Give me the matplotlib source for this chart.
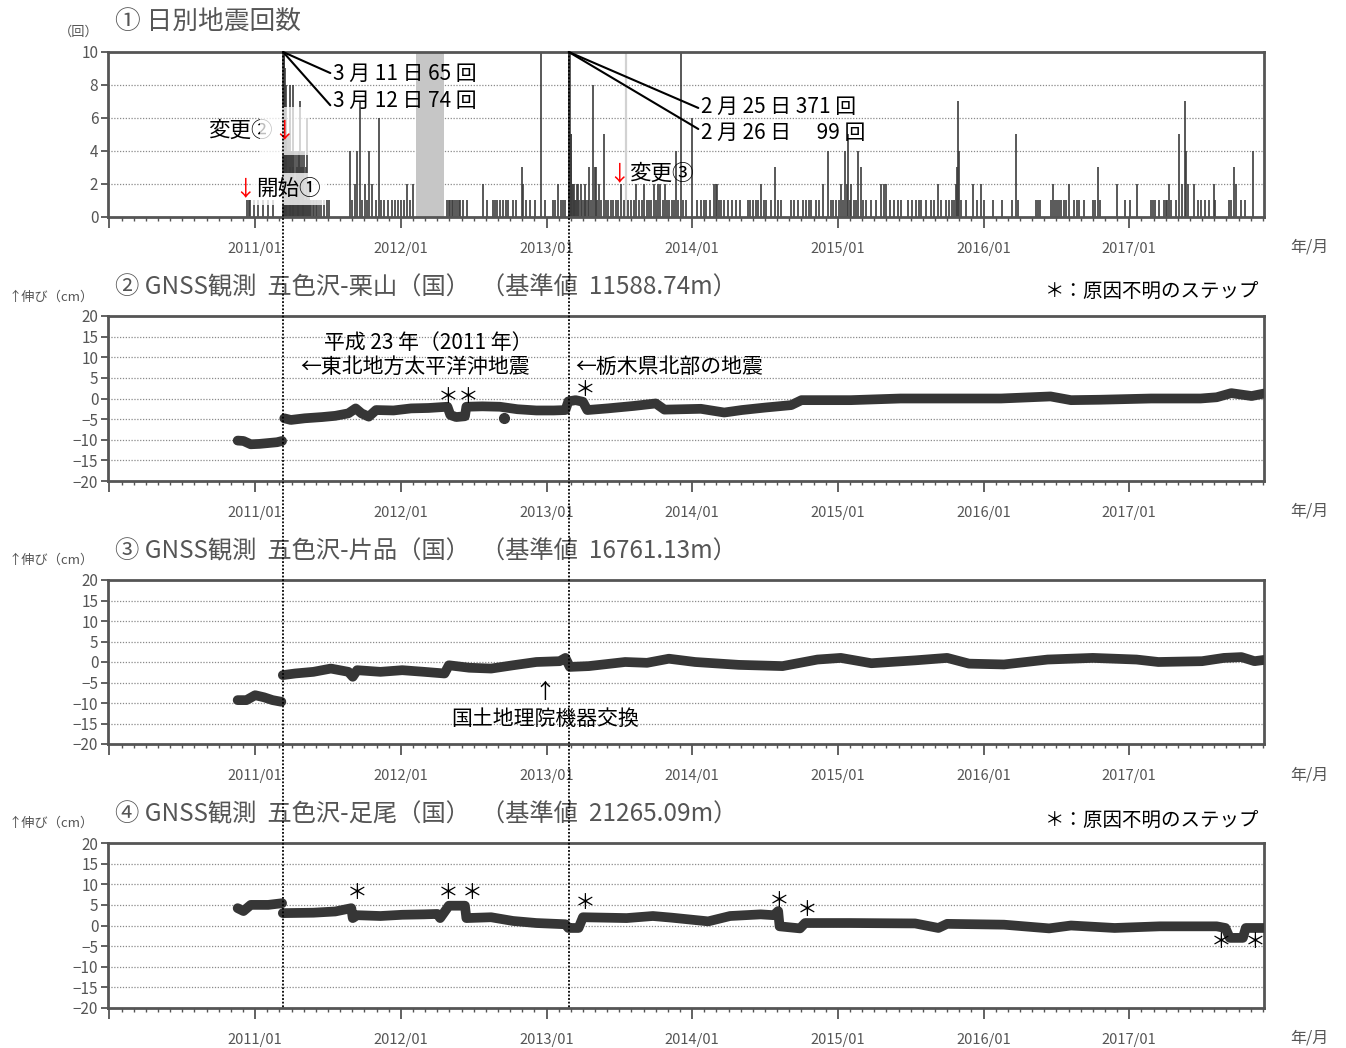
import numpy as np
import matplotlib
matplotlib.use('Agg')
import matplotlib.pyplot as plt
from matplotlib import transforms
from matplotlib.lines import Line2D

plt.rcParams['font.family'] = ['Noto Sans CJK JP', 'DejaVu Sans']
NARROW = ['Liberation Sans Narrow', 'Noto Sans CJK JP', 'DejaVu Sans']

# ---------------- data ----------------
year_ticks = [2010, 2011, 2012, 2013, 2014, 2015, 2016, 2017]
year_labels = ['', '2011/01', '2012/01', '2013/01', '2014/01', '2015/01', '2016/01', '2017/01']

tohoku_eq = 2011.192   # 2011-03-11
tochigi_eq = 2013.153  # 2013-02-25

# daily earthquake counts (decimal year, count)
quake_dates = [
    2010.945, 2010.955, 2010.966, 2010.990, 2011.020, 2011.055, 2011.090, 2011.120,
    2011.192, 2011.195, 2011.197, 2011.200, 2011.203, 2011.206, 2011.209, 2011.214,
    2011.219, 2011.225, 2011.230, 2011.236, 2011.241, 2011.247, 2011.252, 2011.258,
    2011.263, 2011.269, 2011.275, 2011.280, 2011.286, 2011.292, 2011.297, 2011.303,
    2011.309, 2011.315, 2011.320, 2011.326, 2011.331, 2011.337, 2011.343, 2011.349,
    2011.355, 2011.362, 2011.370, 2011.378, 2011.386, 2011.395, 2011.405, 2011.415,
    2011.428, 2011.440, 2011.455, 2011.470, 2011.495, 2011.510,
    2011.652, 2011.665, 2011.686, 2011.700, 2011.721, 2011.735, 2011.755, 2011.768,
    2011.782, 2011.800, 2011.830, 2011.851, 2011.865, 2011.885, 2011.912, 2011.940,
    2011.960, 2011.981, 2012.000, 2012.023, 2012.043, 2012.064, 2012.085,
    2012.318, 2012.330, 2012.338, 2012.350, 2012.359, 2012.372, 2012.386, 2012.400,
    2012.407, 2012.428, 2012.455, 2012.565, 2012.590, 2012.633, 2012.645, 2012.661,
    2012.682, 2012.702, 2012.720, 2012.736, 2012.771, 2012.790, 2012.833, 2012.839,
    2012.860, 2012.887, 2012.922, 2012.963, 2012.990, 2013.045, 2013.060, 2013.080,
    2013.100, 2013.114, 2013.125,
    2013.153, 2013.156, 2013.159, 2013.162, 2013.165, 2013.168, 2013.171, 2013.174,
    2013.180, 2013.186, 2013.192, 2013.198, 2013.205, 2013.212, 2013.217, 2013.225,
    2013.237, 2013.245, 2013.255, 2013.265, 2013.272, 2013.285, 2013.295, 2013.306,
    2013.320, 2013.330, 2013.340, 2013.350, 2013.362, 2013.375, 2013.395, 2013.410,
    2013.423, 2013.440, 2013.457, 2013.475, 2013.490, 2013.512, 2013.530, 2013.560,
    2013.581, 2013.600, 2013.615, 2013.635, 2013.655, 2013.670, 2013.690, 2013.705,
    2013.718, 2013.735, 2013.750, 2013.766, 2013.780, 2013.800, 2013.815, 2013.830,
    2013.841, 2013.860, 2013.875, 2013.889, 2013.905, 2013.924, 2013.940, 2013.960,
    2013.999, 2014.030, 2014.061, 2014.080, 2014.095, 2014.120, 2014.150, 2014.160,
    2014.171, 2014.185, 2014.198, 2014.220, 2014.246, 2014.270,
    2014.301, 2014.330, 2014.384, 2014.400, 2014.418, 2014.440, 2014.452, 2014.473,
    2014.490, 2014.507, 2014.542, 2014.569, 2014.590, 2014.610, 2014.679, 2014.700,
    2014.727, 2014.760, 2014.782, 2014.800, 2014.816, 2014.850, 2014.870, 2014.898,
    2014.933, 2014.950, 2014.967, 2014.990,
    2015.008, 2015.022, 2015.035, 2015.049, 2015.060, 2015.070, 2015.080, 2015.091,
    2015.110, 2015.125, 2015.139, 2015.159, 2015.170, 2015.195, 2015.228, 2015.260,
    2015.297, 2015.315, 2015.331, 2015.360, 2015.386, 2015.410, 2015.434, 2015.482,
    2015.510, 2015.537, 2015.560, 2015.571, 2015.605, 2015.640, 2015.660, 2015.690,
    2015.708, 2015.743, 2015.763, 2015.780, 2015.797, 2015.810, 2015.818, 2015.825,
    2015.832, 2015.846, 2015.880, 2015.928, 2015.955, 2015.983, 2016.000,
    2016.065, 2016.127, 2016.196, 2016.223, 2016.237, 2016.360, 2016.375, 2016.388,
    2016.463, 2016.477, 2016.490, 2016.505, 2016.520, 2016.532, 2016.550, 2016.566,
    2016.587, 2016.621, 2016.640, 2016.656, 2016.690, 2016.752, 2016.765, 2016.786,
    2016.800, 2016.916, 2016.971, 2017.006,
    2017.054, 2017.150, 2017.165, 2017.178, 2017.205, 2017.239, 2017.250, 2017.260,
    2017.273, 2017.287, 2017.321, 2017.342, 2017.362, 2017.383, 2017.390, 2017.404,
    2017.445, 2017.470, 2017.493, 2017.520, 2017.548, 2017.582, 2017.590, 2017.685,
    2017.699, 2017.719, 2017.730, 2017.767, 2017.795, 2017.850,
]
quake_counts = [
    1, 1, 1, 1, 1, 1, 1, 1,
    65, 74, 12, 10, 9, 6, 5, 8,
    4, 5, 4, 8, 3, 4, 4, 8,
    3, 4, 2, 4, 3, 4, 2, 4,
    7, 3, 4, 2, 3, 4, 1, 3,
    6, 1, 2, 1, 1, 1, 1, 1,
    1, 1, 1, 1, 1, 1,
    4, 1, 2, 4, 7, 1, 2, 1,
    4, 2, 1, 6, 1, 1, 1, 1,
    1, 1, 1, 1, 2, 1, 2,
    1, 1, 1, 1, 1, 1, 1, 1,
    1, 1, 1, 2, 1, 1, 1, 1,
    1, 1, 1, 1, 1, 1, 3, 2,
    1, 1, 1, 11, 1, 1, 1, 2,
    1, 1, 1,
    371, 99, 12, 5, 5, 5, 4, 2,
    2, 1, 2, 1, 1, 2, 2, 1,
    2, 1, 1, 2, 1, 1, 3, 1,
    8, 3, 3, 1, 2, 1, 5, 1,
    1, 1, 1, 1, 1, 2, 1, 1,
    1, 1, 2, 1, 1, 2, 1, 1,
    1, 2, 1, 2, 2, 1, 2, 1,
    1, 1, 1, 4, 1, 12, 1, 1,
    6, 1, 1, 1, 1, 1, 2, 2,
    2, 1, 1, 1, 1, 1,
    1, 1, 1, 1, 1, 1, 1, 2,
    1, 1, 1, 3, 1, 1, 1, 1,
    1, 1, 1, 1, 1, 1, 1, 2,
    4, 1, 1, 1,
    1, 2, 1, 4, 2, 5, 1, 2,
    1, 1, 4, 3, 1, 1, 1, 1,
    2, 2, 2, 1, 1, 1, 1, 1,
    1, 1, 1, 1, 1, 1, 1, 2,
    1, 1, 1, 1, 1, 2, 3, 7,
    4, 1, 1, 2, 1, 2, 1,
    1, 1, 1, 5, 1, 1, 1, 1,
    1, 2, 1, 1, 1, 1, 1, 1,
    2, 1, 1, 1, 1, 1, 1, 3,
    1, 2, 1, 1,
    2, 1, 1, 1, 1, 1, 1, 1,
    2, 1, 1, 5, 2, 7, 4, 2,
    2, 1, 1, 1, 1, 2, 1, 1,
    1, 3, 2, 1, 1, 4,
]
gap_start, gap_end = 2012.105, 2012.297     # no observation period
missing_days = [2013.546]

# GNSS baseline changes (cm)
kuriyama_t = [2010.88, 2010.92, 2010.97, 2011.03, 2011.09, 2011.15, 2011.185, np.nan,
              2011.20, 2011.245, 2011.34, 2011.46, 2011.55, 2011.64, 2011.69, 2011.73,
              2011.78, 2011.83, 2011.95, 2012.07, 2012.19, 2012.32, 2012.34, 2012.38,
              2012.44, 2012.45, 2012.56, 2012.68, 2012.80, 2012.93, 2013.05, 2013.13,
              2013.15, 2013.20, 2013.25, 2013.28, 2013.42, 2013.60, 2013.75, 2013.81,
              2014.06, 2014.22, 2014.34, 2014.50, 2014.68, 2014.75, 2015.09, 2015.43,
              2015.77, 2016.12, 2016.46, 2016.60, 2016.80, 2017.15, 2017.49, 2017.60,
              2017.70, 2017.84, 2017.925]
kuriyama_v = [-10.2, -10.3, -11.1, -11.0, -10.8, -10.6, -10.3, np.nan,
              -4.8, -5.2, -4.8, -4.5, -4.2, -3.6, -2.4, -3.6,
              -4.4, -2.8, -2.9, -2.4, -2.3, -2.0, -4.0, -4.5,
              -4.3, -2.0, -1.9, -2.0, -2.6, -2.9, -2.9, -2.8,
              -0.7, -0.4, -0.8, -2.8, -2.4, -1.8, -1.2, -2.7,
              -2.5, -3.4, -2.8, -2.2, -1.6, -0.4, -0.4, 0.0,
              0.0, 0.0, 0.5, -0.4, -0.3, 0.0, 0.0, 0.3,
              1.3, 0.6, 1.2]
kuriyama_outlier_t = [2012.71]
kuriyama_outlier_v = [-4.8]

katashina_t = [2010.88, 2010.94, 2011.00, 2011.06, 2011.12, 2011.18, np.nan,
               2011.19, 2011.275, 2011.40, 2011.52, 2011.64, 2011.67, 2011.70, 2011.86,
               2012.01, 2012.16, 2012.30, 2012.33, 2012.47, 2012.62, 2012.77, 2012.93,
               2013.09, 2013.13, 2013.16, 2013.29, 2013.54, 2013.69, 2013.84, 2014.02,
               2014.32, 2014.62, 2014.86, 2015.02, 2015.23, 2015.53, 2015.75, 2015.90,
               2016.14, 2016.44, 2016.75, 2017.05, 2017.20, 2017.50, 2017.65, 2017.77,
               2017.86, 2017.925]
katashina_v = [-9.3, -9.3, -8.1, -8.6, -9.3, -9.7, np.nan,
               -3.2, -2.8, -2.4, -1.6, -2.4, -3.6, -2.0, -2.4,
               -2.0, -2.4, -2.8, -0.8, -1.4, -1.6, -0.8, 0.0,
               0.2, 1.0, -1.2, -1.0, 0.0, -0.2, 0.8, 0.0,
               -0.7, -1.0, 0.6, 1.0, -0.3, 0.4, 1.0, -0.4,
               -0.6, 0.6, 1.0, 0.6, 0.0, 0.2, 1.0, 1.2,
               0.2, 0.5]

ashio_t = [2010.88, 2010.92, 2010.97, 2011.09, 2011.185, np.nan,
           2011.19, 2011.40, 2011.55, 2011.66, 2011.67, 2011.70, 2011.86, 2012.01,
           2012.16, 2012.25, 2012.27, 2012.33, 2012.44, 2012.45, 2012.62, 2012.77,
           2012.93, 2013.13, 2013.15, 2013.22, 2013.25, 2013.55, 2013.73, 2013.86,
           2014.11, 2014.26, 2014.47, 2014.56, 2014.59, 2014.60, 2014.74, 2014.775,
           2015.08, 2015.53, 2015.69, 2015.75, 2016.14, 2016.45, 2016.60, 2016.90,
           2017.21, 2017.60, 2017.66, 2017.69, 2017.78, 2017.80, 2017.925]
ashio_v = [4.2, 3.5, 5.0, 5.0, 5.4, np.nan,
           3.0, 3.1, 3.4, 4.2, 1.8, 2.5, 2.3, 2.6,
           2.7, 2.8, 1.8, 4.8, 4.8, 1.8, 2.0, 1.1,
           0.6, 0.3, -0.6, -0.6, 2.0, 1.8, 2.3, 1.9,
           1.0, 2.3, 2.7, 2.5, 3.5, -0.2, -0.7, 0.6,
           0.6, 0.5, -0.6, 0.4, 0.2, -0.7, 0.0, -0.6,
           -0.2, -0.2, -0.6, -3.0, -3.0, -0.6, -0.6]

kuriyama_steps = [(2012.325, 0.4), (2012.462, 0.4), (2013.265, 2.1)]
ashio_steps = [(2011.700, 7.9), (2012.325, 7.9), (2012.489, 7.9), (2013.265, 5.5),
               (2014.596, 5.9), (2014.789, 3.8), (2017.630, -4.0), (2017.863, -4.0)]

# ---------------- figure ----------------
W, H = 1346, 1048
fig = plt.figure(figsize=(W / 100, H / 100), dpi=100)


def fx(px):
    return px / W


def fy(py):
    return 1 - py / H


XMIN, XMAX = 2009.99, 2017.925
GRAY = '#555555'
SERIES = '#363636'


def make_axes(top, bottom):
    return fig.add_axes([fx(108), fy(bottom), fx(1264) - fx(108), (bottom - top) / H])


def style(ax, yticks, grids):
    ax.set_xlim(XMIN, XMAX)
    ax.set_xticks(year_ticks)
    ax.set_xticklabels(year_labels)
    ax.set_xticks(np.arange(2010, 2018, 1 / 12), minor=True)
    ax.set_yticks(yticks)
    ax.tick_params(axis='x', which='major', direction='out', length=8, width=1.3,
                   color=GRAY, pad=10, labelsize=10.5, labelcolor=GRAY)
    ax.tick_params(axis='x', which='minor', direction='out', length=3, width=1.0, color=GRAY)
    ax.tick_params(axis='y', direction='out', length=5, width=1.3, color=GRAY,
                   labelsize=11, labelcolor=GRAY, pad=2)
    for lab in ax.get_xticklabels() + ax.get_yticklabels():
        lab.set_fontfamily(NARROW)
    for sp in ax.spines.values():
        sp.set_linewidth(2)
        sp.set_color(GRAY)
    for g in grids:
        ax.axhline(g, color='#8a8a8a', lw=0.9, ls=(0, (1, 1.3)), zorder=0)


# Panel 1
ax1 = make_axes(52, 217)
ax1.set_ylim(0, 10)
style(ax1, [0, 2, 4, 6, 8, 10], [2, 4, 6, 8])
ax1.axvspan(gap_start, gap_end, color='#c6c6c6', lw=0, zorder=0.5)
for d in missing_days:
    ax1.axvline(d, color='#d2d2d2', lw=1.6, zorder=0.5)
ax1.vlines(quake_dates, 0, quake_counts, color='#3c3c3c', lw=1.2, zorder=2)

arrow_kw = dict(arrowstyle='-', color='k', lw=1.5, shrinkA=0, shrinkB=0)
ax1.annotate('3 月 11 日 65 回', xy=(tohoku_eq, 10), xytext=(2011.535, 8.65),
             ha='left', va='center', fontsize=15, zorder=6,
             arrowprops=dict(relpos=(0, 0.5), **arrow_kw))
ax1.annotate('3 月 12 日 74 回', xy=(tohoku_eq, 10), xytext=(2011.535, 7.05),
             ha='left', va='center', fontsize=15, zorder=6,
             arrowprops=dict(relpos=(0, 0.15), **arrow_kw))
ax1.annotate('2 月 25 日 371 回', xy=(tochigi_eq, 10), xytext=(2014.061, 6.67),
             ha='left', va='center', fontsize=15, zorder=6,
             arrowprops=dict(relpos=(0, 0.4), **arrow_kw))
ax1.annotate('2 月 26 日\u3000 99 回', xy=(tochigi_eq, 10), xytext=(2014.061, 5.1),
             ha='left', va='center', fontsize=15, zorder=6,
             arrowprops=dict(relpos=(0, 0.6), **arrow_kw))

wbox = dict(boxstyle='square,pad=0.25', fc='white', ec='none', alpha=0.8)
ax1.text(2010.677, 5.2, '変更②', ha='left', va='center', fontsize=15.5, zorder=6)
ax1.text(2011.199, 5.2, '↓', ha='center', va='center', fontsize=15.5, color='red',
         zorder=6, bbox=dict(boxstyle='square,pad=0.6', fc='white', ec='none', alpha=0.75))
ax1.text(2010.931, 1.7, '↓', ha='center', va='center', fontsize=15.5, color='red', zorder=6)
ax1.text(2011.007, 1.7, '開始①', ha='left', va='center', fontsize=15.5, zorder=6, bbox=wbox)
ax1.text(2013.498, 2.6, '↓', ha='center', va='center', fontsize=15.5, color='red', zorder=6)
ax1.text(2013.567, 2.6, '変更③', ha='left', va='center', fontsize=15.5, zorder=6)

# GNSS panels
gnss_ticks = [-20, -15, -10, -5, 0, 5, 10, 15, 20]
gnss_grid = [-15, -10, -5, 0, 5, 10, 15]
line_kw = dict(color=SERIES, lw=7, solid_joinstyle='round', solid_capstyle='round', zorder=3)

ax2 = make_axes(316, 481)
ax2.set_ylim(-20, 20)
style(ax2, gnss_ticks, gnss_grid)
ax2.plot(kuriyama_t, kuriyama_v, **line_kw)
ax2.plot(kuriyama_outlier_t, kuriyama_outlier_v, 'o', color=SERIES, ms=7, zorder=3)
for (t, v) in kuriyama_steps:
    ax2.text(t, v, '＊', ha='center', va='center', fontsize=15, zorder=6)
ax2.text(2012.187, 13.5, '平成 23 年（2011 年）', ha='center', va='center', fontsize=15)
ax2.text(2011.309, 7.6, '←東北地方太平洋沖地震', ha='left', va='center', fontsize=15)
ax2.text(2013.196, 7.6, '←栃木県北部の地震', ha='left', va='center', fontsize=15)

ax3 = make_axes(580, 744)
ax3.set_ylim(-20, 20)
style(ax3, gnss_ticks, gnss_grid)
ax3.plot(katashina_t, katashina_v, **line_kw)
ax3.text(2012.99, -7.3, '↑', ha='center', va='center', fontsize=15)
ax3.text(2012.99, -13.9, '国土地理院機器交換', ha='center', va='center', fontsize=15)

ax4 = make_axes(843, 1008)
ax4.set_ylim(-20, 20)
style(ax4, gnss_ticks, gnss_grid)
ax4.plot(ashio_t, ashio_v, **line_kw)
for (t, v) in ashio_steps:
    ax4.text(t, v, '＊', ha='center', va='center', fontsize=15, zorder=6)

# vertical event lines through all panels
trans = transforms.blended_transform_factory(ax1.transData, fig.transFigure)
for d in [tohoku_eq, tochigi_eq]:
    fig.add_artist(Line2D([d, d], [fy(52), fy(1008)], transform=trans, color='k',
                          lw=1.3, ls=(0, (1, 1)), zorder=10))

# titles and labels
fig.text(fx(115), fy(22), '① 日別地震回数', ha='left', va='center', fontsize=18.5, color=GRAY)
fig.text(fx(79), fy(32), '（回）', ha='center', va='center', fontsize=9.5, color=GRAY)
titles = ['② GNSS観測  五色沢-栗山（国）  （基準値  11588.74m）',
          '③ GNSS観測  五色沢-片品（国）  （基準値  16761.13m）',
          '④ GNSS観測  五色沢-足尾（国）  （基準値  21265.09m）']
for t, yy, yl in zip(titles, [287, 551, 814], [297, 560, 823]):
    fig.text(fx(115), fy(yy), t, ha='left', va='center', fontsize=17.5, color=GRAY)
    fig.text(fx(8), fy(yl), '↑伸び（cm）', ha='left', va='center', fontsize=9.5, color=GRAY)
for yy in [291, 820]:
    fig.text(fx(1045), fy(yy), '＊：原因不明のステップ', ha='left', va='center', fontsize=14)
for yy in [247, 511, 775, 1038]:
    fig.text(fx(1290), fy(yy), '年/月', ha='left', va='center', fontsize=11.5, color=GRAY)

fig.savefig('out.png', dpi=100)
